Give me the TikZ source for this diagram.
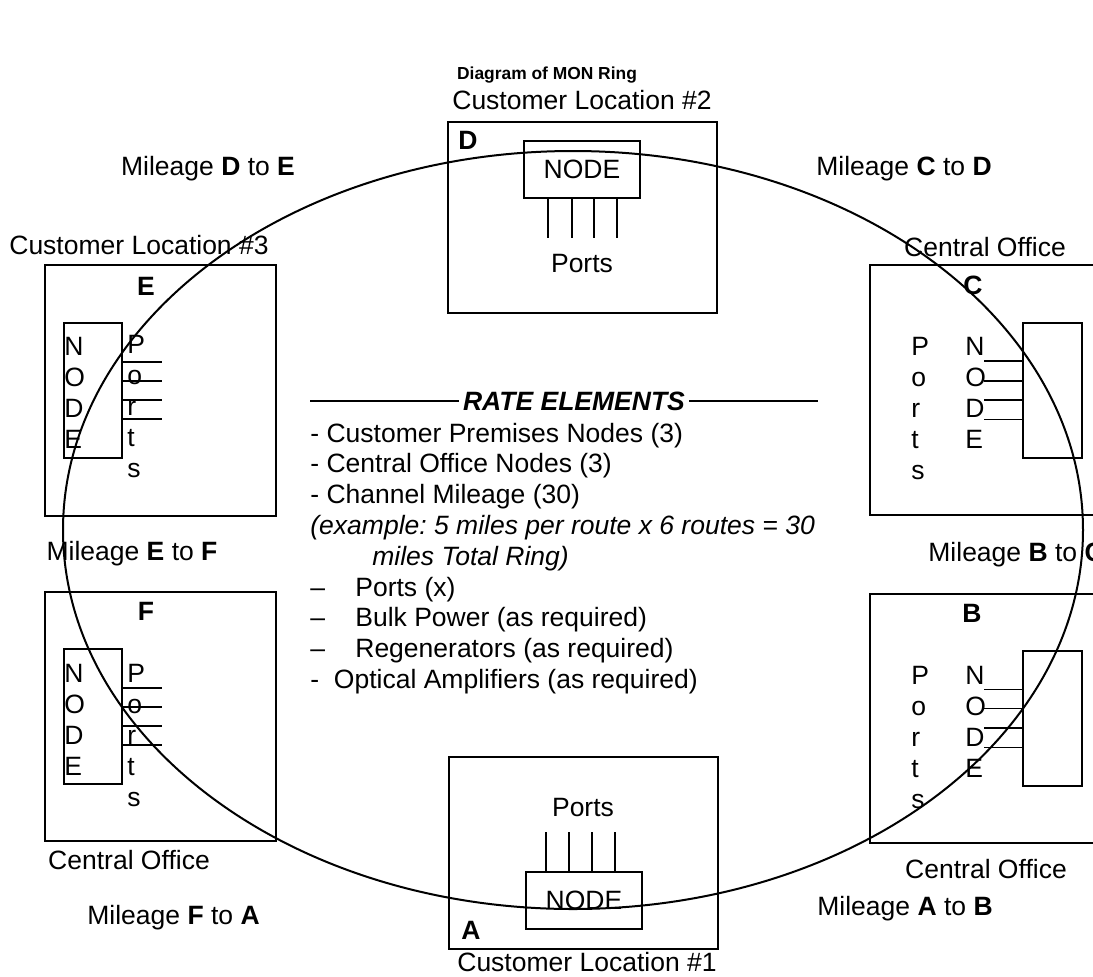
\documentclass[tikz,border=0pt]{standalone}
\usepackage{fontspec}
\setmainfont{Liberation Sans}
\usepackage{tikz}
\frenchspacing

\tikzset{
  site/.style={draw, line width=0.65pt, inner sep=0pt},
  unit/.style={draw, line width=0.65pt, inner sep=0pt, font=\fontsize{13.25}{15.5}\selectfont},
  lbl/.style={inner sep=0pt, font=\fontsize{13.25}{15.5}\selectfont},
  tag/.style={inner sep=0pt, font=\fontsize{13.25}{15.5}\selectfont\bfseries},
  vtext/.style={lbl, align=left, anchor=north west},
  port/.style={line width=0.65pt},
  ring/.style={line width=1pt},
}

\begin{document}
\begin{tikzpicture}[x=0.5pt, y=-0.5pt]
\clip (0,0) rectangle (1093,976);
\node[inner sep=0pt, font=\fontsize{8.7}{10}\selectfont\bfseries] (title) at (547,75) {Diagram of MON Ring};

% customer locations D and A
\node[site, minimum width=134.5pt, minimum height=95.5pt] (siteD) at (582.5,217.5) {};
\node[unit, minimum width=58pt, minimum height=28.5pt] (nodeD) at (582,169.5) {NODE};
\foreach \dx in {-34,-10,12,35} \draw[port] (nodeD.south) ++(\dx,0) -- ++(0,39);
\node[lbl] (portsD) at (582,264) {Ports};
\node[tag] (labD) at (468,140) {D};
\node[lbl] (locD) at (582,100) {Customer Location \#2};

\node[site, minimum width=134.5pt, minimum height=96pt] (siteA) at (583.5,853) {};
\node[unit, minimum width=58pt, minimum height=28.5pt] (nodeA) at (584,900.5) {NODE};
\foreach \dx in {-38,-15,8,31} \draw[port] (nodeA.north) ++(\dx,0) -- ++(0,-39);
\node[lbl] (portsA) at (583,807) {Ports};
\node[tag] (labA) at (471,930) {A};
\node[lbl] (locA) at (587,962) {Customer Location \#1};

% left side E and F
\node[site, minimum width=115.5pt, minimum height=125.5pt] (siteE) at (160.5,390.5) {};
\node[unit, minimum width=29pt, minimum height=67.5pt] (nodeE) at (93,390.5) {};
\foreach \dy in {-28.5,-9.5,9.5,28.5} \draw[port] (nodeE.east) ++(0,\dy) -- ++(39,0);
\node[vtext] (nodeEtxt) at (64,337) {N\\O\\D\\E};
\node[vtext] (portsE) at (127,334.5) {P\\o\\r\\t\\s};
\node[tag] (labE) at (146,286) {E};
\node[lbl] (locE) at (139,245) {Customer Location \#3};

\node[site, minimum width=115.5pt, minimum height=124.5pt] (siteF) at (160.5,716.5) {};
\node[unit, minimum width=29pt, minimum height=67.5pt] (nodeF) at (93,716.5) {};
\foreach \dy in {-28.5,-9.5,9.5,28.5} \draw[port] (nodeF.east) ++(0,\dy) -- ++(39,0);
\node[vtext] (nodeFtxt) at (64,663.5) {N\\O\\D\\E};
\node[vtext] (portsF) at (127,663.5) {P\\o\\r\\t\\s};
\node[tag] (labF) at (146,611) {F};
\node[lbl] (locF) at (129,860) {Central Office};

% right side C and B
\node[site, minimum width=115.5pt, minimum height=125pt] (siteC) at (985.5,390) {};
\node[unit, minimum width=29.5pt, minimum height=67.5pt] (nodeC) at (1052.5,390.5) {};
\foreach \dy in {-29.5,-9.5,9.5,29} \draw[port] (nodeC.west) ++(0,\dy) -- ++(-38,0);
\node[vtext] (portsC) at (911,337) {P\\o\\r\\t\\s};
\node[vtext] (nodeCtxt) at (965,337) {N\\O\\D\\E};
\node[tag] (labC) at (973,285) {C};
\node[lbl] (locC) at (985,247) {Central Office};

\node[site, minimum width=115.5pt, minimum height=124.5pt] (siteB) at (985.5,718.5) {};
\node[unit, minimum width=29.5pt, minimum height=67.5pt] (nodeB) at (1052.5,718.5) {};
\foreach \dy in {-29,-10,9.5,29} \draw[port] (nodeB.west) ++(0,\dy) -- ++(-38,0);
\node[vtext] (portsB) at (911,665.5) {P\\o\\r\\t\\s};
\node[vtext] (nodeBtxt) at (965,665.5) {N\\O\\D\\E};
\node[tag] (labB) at (972,613) {B};
\node[lbl] (locB) at (986,869) {Central Office};

% mileage between sites
\node[lbl] (milDE) at (208,169) {Mileage \textbf{D} to \textbf{E}};
\node[lbl] (milCD) at (904,169) {Mileage \textbf{C} to \textbf{D}};
\node[lbl] (milEF) at (132,554) {Mileage \textbf{E} to \textbf{F}};
\node[lbl, anchor=west] (milBC) at (928,555) {Mileage \textbf{B} to \textbf{C}};
\node[lbl, anchor=west] (milFA) at (87,918) {Mileage \textbf{F} to \textbf{A}};
\node[lbl, anchor=west] (milAB) at (817,909) {Mileage \textbf{A} to \textbf{B}};

% rate elements
\node[inner sep=2pt, font=\fontsize{13.25}{15.5}\selectfont\bfseries\itshape] (rate) at (574,401) {RATE ELEMENTS};
\coordinate (ruleL) at (310,401);
\coordinate (ruleR) at (818,401);
\draw[port] (ruleL) -- (rate.west);
\draw[port] (rate.east) -- (ruleR);
\node[vtext, font=\fontsize{13.25}{15.4}\selectfont] (rates) at (310,422.5) {%
  - Customer Premises Nodes (3)\\
  - Central Office Nodes (3)\\
  - Channel Mileage (30)\\
  \textit{(example: 5 miles per route x 6 routes = 30}\\
  \hspace*{31pt}\textit{miles Total Ring)}\\
  \makebox[22.5pt][l]{–}Ports (x)\\
  \makebox[22.5pt][l]{–}Bulk Power (as required)\\
  \makebox[22.5pt][l]{–}Regenerators (as required)\\
  -\ \ Optical Amplifiers (as required)};

% the ring
\draw[ring] (573,530) ellipse [x radius=255pt, y radius=189.5pt];
\end{tikzpicture}
\end{document}
